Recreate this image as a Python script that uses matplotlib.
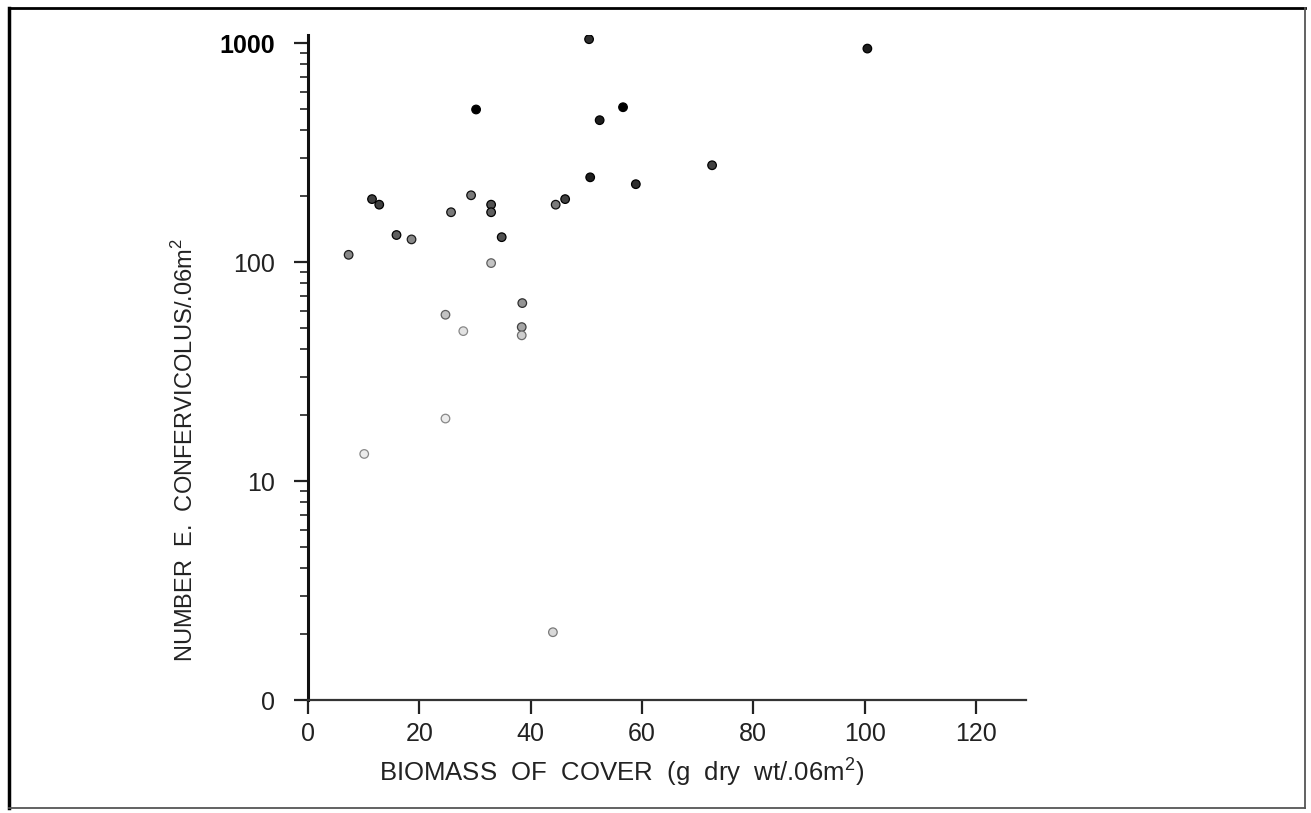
# biomass of cover vs number of E. confervicolus (log scale)

import numpy as np
import matplotlib.pyplot as plt
from matplotlib.ticker import FixedLocator, LogLocator, NullFormatter
from matplotlib.lines import Line2D

plt.rcParams['font.family'] = ['Liberation Sans', 'DejaVu Sans']
plt.rcParams['mathtext.fontset'] = 'custom'
plt.rcParams['mathtext.rm'] = 'Liberation Sans'

# data
biomass = [50.5, 30.2, 56.6, 52.4, 100.5, 72.6, 50.7, 58.9, 29.3, 11.5,
           12.8, 32.9, 32.9, 25.7, 44.5, 46.2, 15.9, 18.6, 34.8, 7.3,
           32.9, 38.5, 24.7, 27.9, 38.4, 38.4, 24.7, 10.1, 44.0]
number = [1043, 498, 510, 445, 945, 277, 244, 227, 202, 194,
          183, 183, 169, 169, 183, 194, 133, 127, 130, 108,
          99, 65, 57.5, 48.4, 50.5, 46.3, 19.3, 13.3, 2.04]
# darkness of each dot as printed (0 = open, 1 = solid black)
shade = [0.85, 1.0, 1.0, 0.9, 0.9, 0.8, 0.9, 0.85, 0.6, 0.8,
         0.8, 0.75, 0.7, 0.6, 0.6, 0.8, 0.7, 0.55, 0.75, 0.55,
         0.35, 0.5, 0.35, 0.2, 0.45, 0.3, 0.15, 0.15, 0.25]

xticks = [0, 20, 40, 60, 80, 100, 120]
yticks = [1, 10, 100, 1000]
ytick_labels = ['0', '10', '100', '1000']

fig = plt.figure(figsize=(13.11, 8.13), dpi=100)
ax = fig.add_axes([308/1311, 1 - 700/813, 718/1311, 665/813])

cmap = plt.get_cmap('Greys')
shade = np.array(shade)
edges = cmap(np.clip(shade + 0.35, 0.55, 1.0))
ax.scatter(biomass, number, c=shade, cmap=cmap, vmin=0, vmax=1,
           s=38, edgecolors=edges, linewidths=0.9, zorder=3)

ax.set_yscale('log')
ax.set_xlim(0, 129)
ax.set_ylim(1, 1090)

ax.xaxis.set_major_locator(FixedLocator(xticks))
ax.yaxis.set_major_locator(FixedLocator(yticks))
ax.set_yticklabels(ytick_labels)
ax.yaxis.set_minor_locator(LogLocator(base=10, subs=np.arange(2, 10)))
ax.yaxis.set_minor_formatter(NullFormatter())

for s in ['top', 'right']:
    ax.spines[s].set_visible(False)
ax.spines['left'].set_linewidth(2.2)
ax.spines['bottom'].set_linewidth(1.6)
ax.spines['left'].set_color('#111111')
ax.spines['bottom'].set_color('#333333')

ax.tick_params(axis='both', which='major', direction='out', length=10,
               width=1.6, labelsize=18, colors='#222222')
ax.tick_params(axis='x', pad=6)
ax.tick_params(axis='y', pad=14)
ax.tick_params(axis='y', which='minor', direction='out', length=6, width=1.2,
               color='#222222')
for lab in ax.get_yticklabels():
    if lab.get_text() == '1000':
        lab.set_fontweight('bold')
        lab.set_color('black')

fig.text(185/1311, 1 - 450/813, 'NUMBER  E.  CONFERVICOLUS/.06m$^2$',
         rotation=90, ha='center', va='center', fontsize=17, color='#222222')
fig.text(622/1311, 1 - 772/813, 'BIOMASS  OF  COVER  (g  dry  wt/.06m$^2$)',
         ha='center', va='center', fontsize=18.5, color='#222222')

# page frame
W, H = 1311, 813
fig.add_artist(Line2D([9/W, 9/W], [1 - 808/H, 1 - 8/H], color='black', lw=2.5))
fig.add_artist(Line2D([9/W, 1305/W], [1 - 8/H, 1 - 8/H], color='black', lw=2))
fig.add_artist(Line2D([1305/W, 1305/W], [1 - 808/H, 1 - 8/H], color='#555555', lw=1.3))
fig.add_artist(Line2D([9/W, 1305/W], [1 - 808/H, 1 - 808/H], color='#555555', lw=1.3))

fig.savefig('out.png', dpi=100)
